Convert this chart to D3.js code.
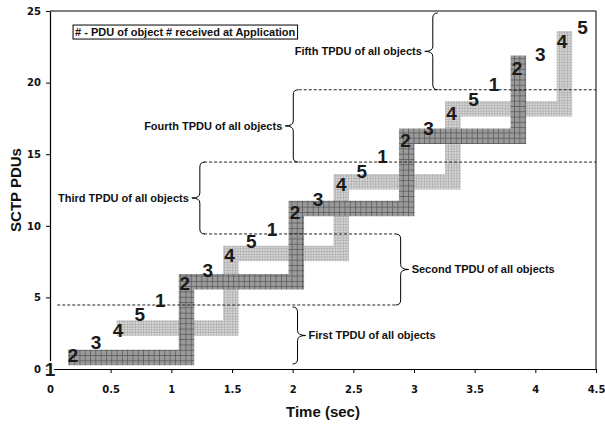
<!DOCTYPE html>
<html><head><meta charset="utf-8">
<script src="https://cdn.jsdelivr.net/npm/d3@7"></script>
<style>body{margin:0;background:#fff} svg{display:block}</style>
</head><body>
<svg id="chart" width="605" height="424"></svg>
<script>
// ---------- data ----------
const xTickValues = [0, 0.5, 1, 1.5, 2, 2.5, 3, 3.5, 4, 4.5];
const yTickValues = [0, 5, 10, 15, 20, 25];

// staircase of PDUs (dark = objects 1-3 path, light = objects 4-5 path)
const darkStepX  = [0.15, 1.125, 1.125, 2.03, 2.03, 2.94, 2.94, 3.86, 3.86];
const darkStepY  = [0.8, 0.8, 6.1, 6.1, 11.2, 11.2, 16.25, 16.25, 21.9];
const lightStepX = [0.55, 1.49, 1.49, 2.40, 2.40, 3.32, 3.32, 4.24, 4.24];
const lightStepY = [2.86, 2.86, 8.07, 8.07, 13.07, 13.07, 18.17, 18.17, 23.6];

// PDU received at application: object number, time, PDU count
const pduObject = ["1","2","3","4","5","1","2","3","4","5","1","2","3","4","5","1","2","3","4","5","1","2","3","4","5"];
const pduTime = [0, 0.19, 0.38, 0.56, 0.74, 0.91, 1.11, 1.30, 1.48, 1.66, 1.83, 2.02, 2.21, 2.40, 2.57, 2.74, 2.93, 3.12, 3.31, 3.49, 3.66, 3.85, 4.04, 4.22, 4.39];
const pduCount = [0, 0.98, 1.85, 2.69, 3.86, 4.84, 5.98, 6.88, 7.94, 8.92, 9.78, 10.96, 11.84, 12.92, 13.83, 14.85, 15.97, 16.84, 17.9, 18.87, 19.9, 21.0, 21.96, 22.9, 23.88];

// dashed separators between TPDU groups
const dashY  = [4.47, 9.43, 14.45, 19.5];
const dashX0 = [0.06, 1.27, 1.27, 2.05];
const dashX1 = [2.85, 2.85, 4.5, 4.5];

// braces
const braceLabels = ["First TPDU of all objects", "Second TPDU of all objects", "Third TPDU of all objects", "Fourth TPDU of all objects", "Fifth TPDU of all objects"];
const braceX  = [2.04, 2.89, 1.235, 2.005, 3.155];
const braceY0 = [0.35, 4.47, 9.43, 14.45, 19.5];
const braceY1 = [4.33, 9.43, 14.45, 19.5, 24.86];
const braceSide = ["right", "right", "left", "left", "left"];

const legendText = "# - PDU of object # received at Application";
const legendAt = [0.19, 24.02];
const xTitle = "Time (sec)";
const yTitle = "SCTP PDUs";

// ---------- layout ----------
const W = 605, H = 424;
const margin = {left: 50, right: 9, top: 11, bottom: 55};
const FONT = "'Liberation Sans', Arial, sans-serif";
const svg = d3.select("#chart");

const x = d3.scaleLinear().domain([0, 4.5]).range([margin.left, W - margin.right]);
const y = d3.scaleLinear().domain([0, 25]).range([H - margin.bottom, margin.top]);

// patterns
const defs = svg.append("defs");
const pd = defs.append("pattern").attr("id", "darkPat").attr("patternUnits", "userSpaceOnUse")
  .attr("width", 5.3).attr("height", 5.3);
pd.append("rect").attr("width", 5.3).attr("height", 5.3).attr("fill", "#9a9a9a");
pd.append("path").attr("d", "M0,0.4H5.3M0.4,0V5.3").attr("stroke", "#505050").attr("stroke-width", 0.7);
const pl = defs.append("pattern").attr("id", "lightPat").attr("patternUnits", "userSpaceOnUse")
  .attr("width", 2.7).attr("height", 2.7);
pl.append("rect").attr("width", 2.7).attr("height", 2.7).attr("fill", "#d6d6d6");
pl.append("path").attr("d", "M0,0.3H2.7M0.3,0V2.7").attr("stroke", "#9c9c9c").attr("stroke-width", 0.6);

// frame (top & right)
svg.append("path")
  .attr("d", `M${x(0)},${y(25)}H${x(4.5)}V${y(0)}`)
  .attr("fill", "none").attr("stroke", "#000").attr("stroke-width", 1);

// axes
const xAxis = d3.axisBottom(x).tickValues(xTickValues).tickFormat(d => String(d))
  .tickSizeInner(4).tickSizeOuter(0).tickPadding(13);
const gx = svg.append("g").attr("transform", `translate(0,${y(0)})`).call(xAxis);
const yAxis = d3.axisLeft(y).tickValues(yTickValues).tickFormat(d => String(d))
  .tickSizeInner(4).tickSizeOuter(0).tickPadding(5);
const gy = svg.append("g").attr("transform", `translate(${x(0)},0)`).call(yAxis);
[gx, gy].forEach(g => {
  g.select(".domain").attr("stroke", "#000").attr("stroke-width", 1.2);
  g.selectAll(".tick line").attr("stroke", "#000");
  g.selectAll(".tick text").attr("font-family", "'DejaVu Sans', sans-serif")
    .attr("font-weight", "bold").attr("font-size", 10).attr("fill", "#111");
});

// staircase bars
const line = d3.line().x(d => x(d[0])).y(d => y(d[1]));
const lightPts = lightStepX.map((v, i) => [v, lightStepY[i]]);
const darkPts = darkStepX.map((v, i) => [v, darkStepY[i]]);
svg.append("path").attr("d", line(lightPts)).attr("fill", "none")
  .attr("stroke", "url(#lightPat)").attr("stroke-width", 15.5)
  .attr("stroke-linejoin", "miter").attr("stroke-linecap", "butt");
svg.append("path").attr("d", line(darkPts)).attr("fill", "none")
  .attr("stroke", "url(#darkPat)").attr("stroke-width", 15.5)
  .attr("stroke-linejoin", "miter").attr("stroke-linecap", "butt");

// dashed separators
svg.append("g").selectAll("line").data(dashY).join("line")
  .attr("x1", (d, i) => x(dashX0[i])).attr("x2", (d, i) => x(dashX1[i]))
  .attr("y1", d => y(d)).attr("y2", d => y(d))
  .attr("stroke", "#222").attr("stroke-width", 1).attr("stroke-dasharray", "3,2");

// braces
const R = 5, TIP = 8;
function bracePath(px, yTop, yBot, side) {
  const s = side === "left" ? 1 : -1; // direction ends curl towards
  const ym = (yTop + yBot) / 2;
  return `M${px + s * R},${yTop} Q${px},${yTop} ${px},${yTop + R} L${px},${ym - R}` +
         ` Q${px},${ym} ${px - s * TIP},${ym} Q${px},${ym} ${px},${ym + R}` +
         ` L${px},${yBot - R} Q${px},${yBot} ${px + s * R},${yBot}`;
}
const gb = svg.append("g");
braceLabels.forEach((lab, i) => {
  const px = x(braceX[i]);
  const yTop = y(braceY1[i]), yBot = y(braceY0[i]);
  gb.append("path").attr("d", bracePath(px, yTop, yBot, braceSide[i]))
    .attr("fill", "none").attr("stroke", "#000").attr("stroke-width", 1);
  const ym = (yTop + yBot) / 2;
  const left = braceSide[i] === "left";
  gb.append("text")
    .attr("x", left ? px - TIP - 3 : px + TIP + 3)
    .attr("y", ym).attr("dy", "0.35em")
    .attr("text-anchor", left ? "end" : "start")
    .attr("font-family", FONT).attr("font-weight", "bold").attr("font-size", 11)
    .attr("fill", "#111").text(lab);
});

// legend box
const lg = svg.append("g");
const lt = lg.append("text").attr("x", x(legendAt[0]) + 2).attr("y", y(legendAt[1]) + 7).attr("dy", "0.35em")
  .attr("font-family", FONT).attr("font-weight", "bold").attr("font-size", 11).attr("fill", "#111")
  .text(legendText);
const bb = lt.node().getBBox();
lg.insert("rect", "text").attr("x", x(legendAt[0])).attr("y", y(legendAt[1]))
  .attr("width", bb.width + 4).attr("height", 14)
  .attr("fill", "#fff").attr("stroke", "#000").attr("stroke-width", 1);

// PDU labels
svg.append("g").selectAll("text").data(pduObject).join("text")
  .attr("x", (d, i) => x(pduTime[i])).attr("y", (d, i) => y(pduCount[i]))
  .attr("dy", "0.36em").attr("text-anchor", "middle")
  .attr("font-family", FONT).attr("font-weight", "bold").attr("font-size", 19)
  .attr("fill", "#1a1a1a")
  .attr("stroke", (d, i) => i === 0 ? "#fff" : "none").attr("stroke-width", 4)
  .attr("paint-order", "stroke")
  .text(d => d);

// titles
svg.append("text").attr("x", (x(0) + x(4.5)) / 2).attr("y", 417).attr("text-anchor", "middle")
  .attr("font-family", FONT).attr("font-weight", "bold").attr("font-size", 15).attr("fill", "#111")
  .text(xTitle);
svg.append("text").attr("transform", `translate(21,${(y(0) + y(25)) / 2}) rotate(-90)`)
  .attr("text-anchor", "middle")
  .attr("font-family", FONT).attr("font-weight", "bold").attr("font-size", 15).attr("fill", "#111")
  .text(yTitle);
</script>
</body></html>
